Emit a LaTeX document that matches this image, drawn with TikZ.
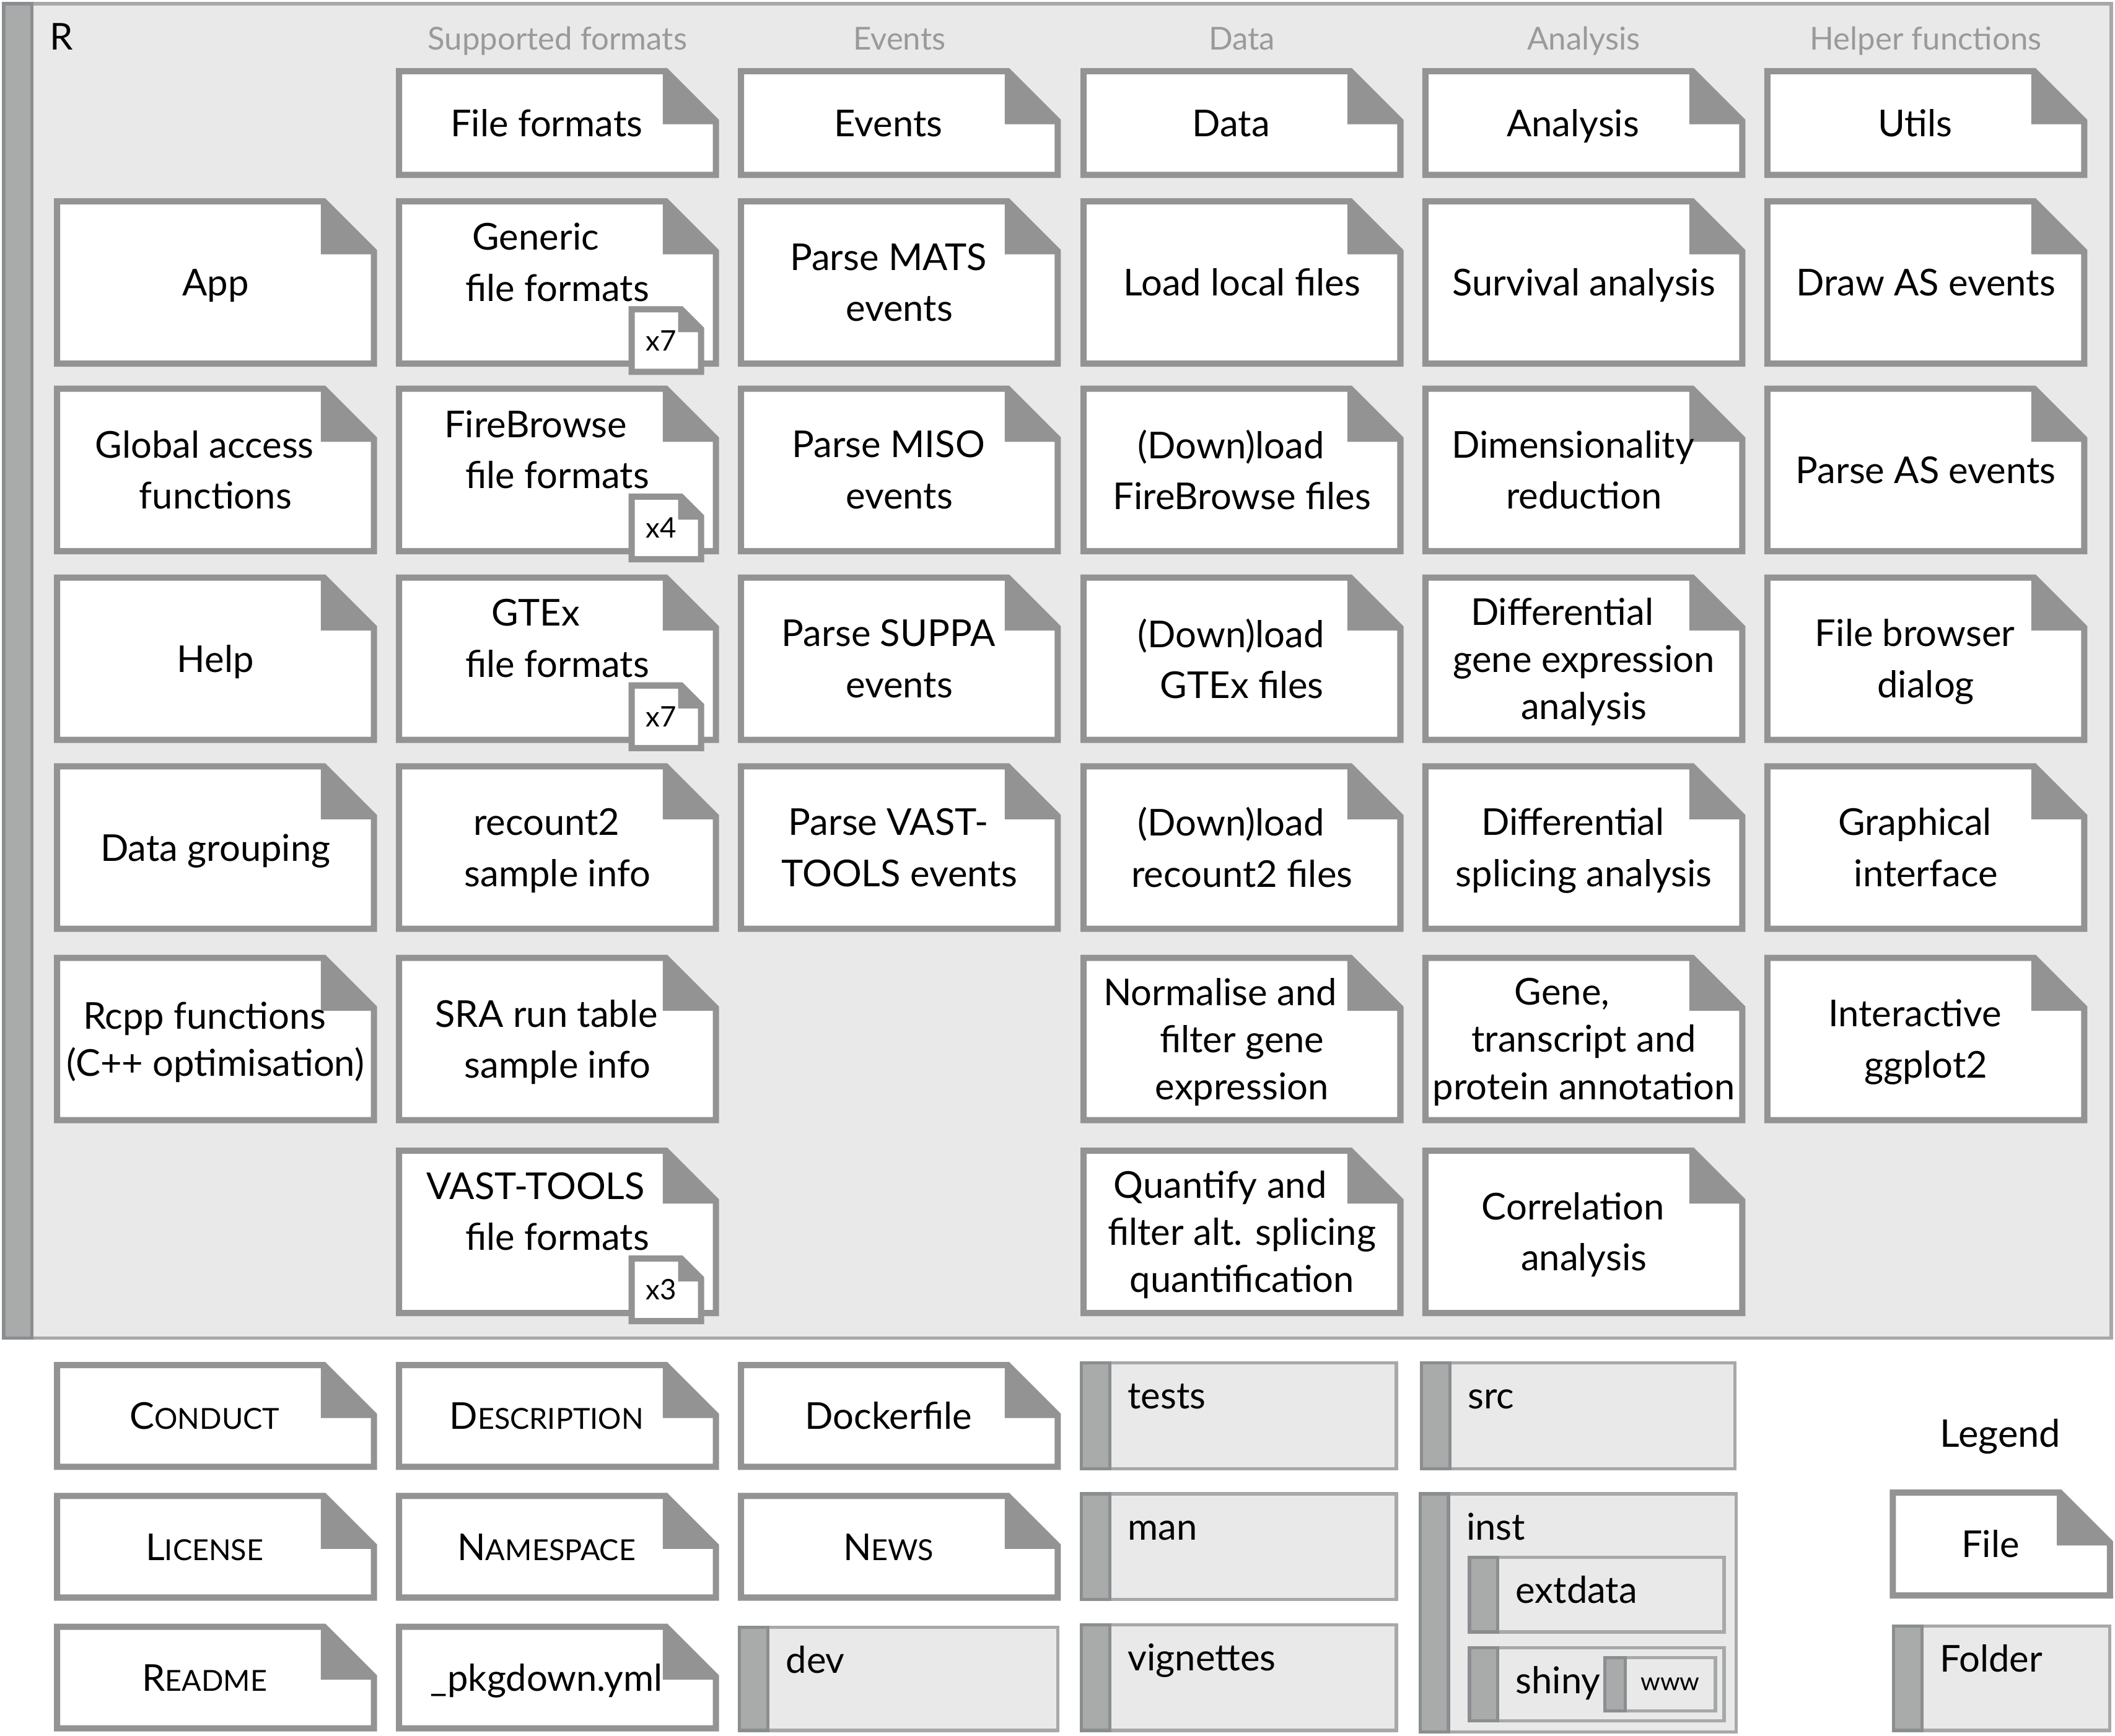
\documentclass[tikz,border=0pt]{standalone}
\usepackage{fontspec}
\setmainfont{Lato}
\usetikzlibrary{calc}

\definecolor{fileline}{HTML}{939393}
\definecolor{folderfill}{HTML}{E9E9E9}
\definecolor{folderline}{HTML}{A7A8A9}
\definecolor{stripfill}{HTML}{A9AAAA}
\definecolor{stripline}{HTML}{8B8E90}
\definecolor{headgray}{HTML}{9A9A9A}

\newcommand{\foldsz}{37}
\newcommand{\stripw}{21}
\newcommand{\trail}{\hspace*{10pt}}
\newcommand{\trailtwo}{\hspace*{20pt}}
\newcommand{\fstrut}{\rule[-4.6pt]{0pt}{17.1pt}}
\newcommand{\smc}[2]{#1{\fontsize{13.3}{16}\selectfont#2}}

% dog-eared sheet between two corners on the stroke line: {name}{nw}{se}{fold}
\newcommand{\dogear}[4]{%
  \coordinate (#1-nw) at (#2);
  \coordinate (#1-se) at (#3);
  \coordinate (#1-ne) at (#1-nw -| #1-se);
  \filldraw[fileshape] (#1-nw) -- ($(#1-ne)+(-#4,0)$) -- ($(#1-ne)+(0,#4)$)
    -- (#1-se) -- (#1-se -| #1-nw) -- cycle;
  \fill[fileline] ($(#1-ne)+(-#4-2.3,0)$) -- ($(#1-ne)+(-#4-2.3,#4+2.3)$)
    -- ($(#1-ne)+(0,#4+2.3)$) -- cycle;
}
% file: [text options]{name}{outer nw}{outer se}{text}
\newcommand{\filebox}[5][]{%
  \dogear{#2}{$(#3)+(2.3,2.3)$}{$(#4)+(-2.3,-2.3)$}{\foldsz}%
  \node[filetext,#1] (#2) at ($(#2-nw)!0.5!(#2-se)$) {#5};%
}
% file on the grid: [text options]{name}{column}{row}{text}
\newcommand{\filecell}[5][]{%
  \pgfmathsetmacro{\fcx}{{40,293.5,547,801,1054.5,1308}[#3]}%
  \pgfmathsetmacro{\fcy}{{50.5,147,286,426,566,708,851,1010,1107,1204}[#4]}%
  \pgfmathsetmacro{\fch}{{81.5,125,125,125,125,125,125,80,80,80}[#4]}%
  \filebox[#1]{#2}{\fcx,\fcy}{\fcx+239.5,\fcy+\fch}{#5}%
}
% small counter sheet on a file's lower right corner
\newcommand{\badge}[2]{%
  \dogear{#1-b}{$(#1-se)+(-62.4,-40.4)$}{$(#1-se)+(-11,6)$}{14.7}%
  \node[badgetext] (#1-count) at ($(#1-b-nw)!0.5!(#1-b-se)+(-4,0)$) {#2};%
}
% folder: [label options]{name}{outer nw}{outer se}{label}
\newcommand{\folder}[5][]{%
  \coordinate (#2-nw) at ($(#3)+(0.8,0.8)$);
  \coordinate (#2-se) at ($(#4)+(-0.8,-0.8)$);
  \filldraw[folderbody] (#2-nw) rectangle (#2-se);
  \filldraw[folderstrip] (#2-nw) rectangle ($(#2-se -| #2-nw)+(\stripw,0)$);
  \node[foldertext,#1] (#2) at ($(#2-nw)+(34,34)$) {#5};%
}

\begin{document}
\begin{tikzpicture}[
  x=0.21773mm, y=-0.21773mm,
  fileshape/.style={fill=white, draw=fileline, line width=2.85pt},
  folderbody/.style={fill=folderfill, draw=folderline, line width=1.5pt},
  folderstrip/.style={fill=stripfill, draw=stripline, line width=1.5pt},
  filetext/.style={inner sep=0pt, align=center, yshift=-2.2pt,
    font=\fontsize{17}{23.5}\selectfont,
    execute at begin node=\fstrut, execute at end node=\fstrut},
  threeline/.style={font=\fontsize{17}{21.7}\selectfont},
  badged/.style={yshift=9.3pt},
  badgetext/.style={inner sep=0pt, font=\fontsize{13}{15}\selectfont},
  foldertext/.style={inner sep=0pt, anchor=base west, font=\fontsize{17}{20}\selectfont},
  colhead/.style={inner sep=0pt, anchor=base, text=headgray, font=\fontsize{14.5}{17}\selectfont},
]
\useasboundingbox (0,0) rectangle (1568,1287);

% --- R folder ---
\folder{rdir}{2,2}{1566,993}{R}

% --- Column headers ---
\node[colhead] (hformats) at (413.25,37) {Supported formats};
\node[colhead] (hevents) at (666.75,37) {Events};
\node[colhead] (hdata) at (920.75,37) {Data};
\node[colhead] (hanalysis) at (1174.25,37) {Analysis};
\node[colhead] (hhelper) at (1427.75,37) {Helper functions};

% --- Module files ---
\filecell{fmtfile}{1}{0}{File formats\trail}
\filecell{evtfile}{2}{0}{Events\trail}
\filecell{datafile}{3}{0}{Data\trail}
\filecell{anafile}{4}{0}{Analysis\trail}
\filecell{utils}{5}{0}{Utils\trail}

\filecell{app}{0}{1}{App}
\filecell[badged]{generic}{1}{1}{Generic\trailtwo\\file formats}
\filecell{mats}{2}{1}{Parse MATS\trail\\events}
\filecell{loadlocal}{3}{1}{Load local files}
\filecell{survival}{4}{1}{Survival analysis}
\filecell{drawas}{5}{1}{Draw AS events}

\filecell{global}{0}{2}{Global access\trail\\functions}
\filecell[badged]{firebrowse}{1}{2}{FireBrowse\trailtwo\\file formats}
\filecell{miso}{2}{2}{Parse MISO\trail\\events}
\filecell{dlfirebrowse}{3}{2}{(Down)load\trail\\FireBrowse files}
\filecell{dimred}{4}{2}{Dimensionality\trail\\reduction}
\filecell{parseas}{5}{2}{Parse AS events}

\filecell{help}{0}{3}{Help}
\filecell[badged]{gtex}{1}{3}{GTEx\trailtwo\\file formats}
\filecell{suppa}{2}{3}{Parse SUPPA\trail\\events}
\filecell{dlgtex}{3}{3}{(Down)load\trail\\GTEx files}
\filecell[threeline]{diffexpr}{4}{3}{Differential\trailtwo\\gene expression\\analysis}
\filecell{browser}{5}{3}{File browser\trail\\dialog}

\filecell{grouping}{0}{4}{Data grouping}
\filecell{recount}{1}{4}{recount2\trail\\sample info}
\filecell{vast}{2}{4}{Parse VAST-\trail\\TOOLS events}
\filecell{dlrecount}{3}{4}{(Down)load\trail\\recount2 files}
\filecell{diffsplice}{4}{4}{Differential\trail\\splicing analysis}
\filecell{gui}{5}{4}{Graphical\trail\\interface}

\filecell[threeline]{rcpp}{0}{5}{Rcpp functions\trail\\(C++ optimisation)}
\filecell{sra}{1}{5}{SRA run table\trail\\sample info}
\filecell[threeline]{normalise}{3}{5}{Normalise and\trailtwo\\filter gene\\expression}
\filecell[threeline]{annotation}{4}{5}{Gene,\trailtwo\\transcript and\\protein annotation}
\filecell{ggplot}{5}{5}{Interactive\trail\\ggplot2}

\filecell[badged]{vasttools}{1}{6}{VAST-TOOLS\trailtwo\\file formats}
\filecell[threeline]{quantify}{3}{6}{Quantify and\trailtwo\\filter alt. splicing\\quantification}
\filecell{correlation}{4}{6}{Correlation\trail\\analysis}

\badge{generic}{x7}
\badge{firebrowse}{x4}
\badge{gtex}{x7}
\badge{vasttools}{x3}

% --- Package root files ---
\filecell{conduct}{0}{7}{\smc{C}{ONDUCT}\trail}
\filecell{license}{0}{8}{\smc{L}{ICENSE}\trail}
\filecell{readme}{0}{9}{\smc{R}{EADME}\trail}
\filecell{description}{1}{7}{\smc{D}{ESCRIPTION}\trail}
\filecell{namespace}{1}{8}{\smc{N}{AMESPACE}\trail}
\filecell{pkgdown}{1}{9}{\_pkgdown.yml\trail}
\filecell{docker}{2}{7}{Dockerfile\trail}
\filecell{news}{2}{8}{\smc{N}{EWS}\trail}

% --- Package root folders ---
\folder{dev}{547.5,1206}{785,1284}{dev}
\folder{tests}{801,1010}{1036,1090}{tests}
\folder{man}{801,1107}{1036,1187}{man}
\folder{vignettes}{801,1204}{1036,1284}{vignettes}
\folder{src}{1053,1010}{1287,1090}{src}
\folder{inst}{1052,1107}{1288,1285}{inst}
\folder{extdata}{1088.6,1154}{1279,1211}{extdata}
\folder{shiny}{1088.6,1221}{1279,1277}{shiny}
\begin{scope}
  \renewcommand{\stripw}{15}
  \folder[xshift=-4.8pt, yshift=6.1pt, font=\fontsize{11.5}{13}\selectfont]{www}{1189,1228.5}{1272.5,1269.6}{www}
\end{scope}

% --- Legend ---
\node[filetext, font=\fontsize{17.5}{20}\selectfont] (legend) at (1483,1063) {Legend};
\filebox{legfile}{1401,1104.5}{1566.5,1185.5}{File\trail}
\folder{legfolder}{1403,1205}{1565,1284}{Folder}
\end{tikzpicture}
\end{document}
